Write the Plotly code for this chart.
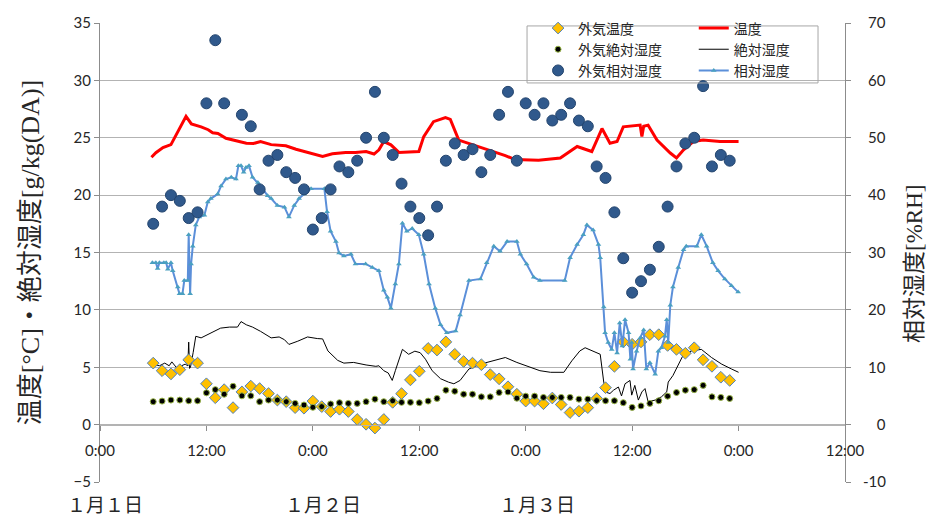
import pandas as pd
import plotly.graph_objects as go

BASE = pd.Timestamp("2015-01-01 00:00")

# ---- outdoor data, hourly from 6:00 on day 1 to 23:00 on day 3 ----
outdoor_hours = list(range(6, 72))
outdoor_temp = [
    5.36, 4.70, 4.42, 4.79, 5.65, 5.36, 3.56, 2.34, 3.05, 1.48,
    2.85, 3.36, 3.14, 2.71, 2.14, 2.00, 1.48, 1.43, 2.05, 1.57,
    1.14, 1.34, 1.14, 0.45, 0.03, -0.30, 0.45, 1.94, 2.70, 3.90,
    4.65, 6.64, 6.50, 7.21, 6.13, 5.50, 5.36, 5.22, 4.36, 3.99,
    3.30, 2.65, 2.05, 2.05, 1.82, 2.32, 1.75, 1.05, 1.17, 1.48,
    2.28, 3.22, 5.08, 7.21, 7.00, 7.21, 7.84, 7.84, 6.90, 6.56,
    6.22, 6.70, 5.65, 5.08, 4.13, 3.85,
]
outdoor_abs_hum = [
    2.00, 2.05, 2.14, 2.14, 2.08, 2.08, 2.77, 3.05, 2.65, 3.34,
    2.51, 2.51, 2.00, 2.14, 2.14, 2.00, 1.85, 1.71, 1.51, 1.57,
    1.80, 1.91, 1.85, 1.85, 2.00, 2.22, 2.00, 2.08, 1.94, 1.94,
    1.91, 2.05, 2.28, 3.00, 2.91, 2.65, 2.65, 2.42, 2.42, 2.80,
    2.85, 2.30, 2.48, 2.48, 2.37, 2.37, 2.37, 2.37, 2.22, 2.22,
    2.10, 2.08, 2.08, 1.91, 1.50, 1.63, 1.85, 2.08, 2.48, 2.80,
    3.00, 3.05, 3.42, 2.42, 2.37, 2.28,
]
outdoor_rh = [
    35, 38, 40, 39, 36, 37, 56, 67, 56, None,
    54, 52, 41, 46, 47, 44, 43, 41, 34, 36,
    41, 45, 44, 46, 50, 58, 50, 47, 42, 38,
    36, 33, 38, 46, 49, 47, 48, 44, 47, 54,
    58, 46, 56, 54, 56, 53, 54, 56, 53, 52,
    45, 43, 37, 29, 23, 25, 27, 31, 38, 45,
    49, 50, 59, 45, 47, 46,
]

# ---- indoor temperature [°C] ----
temp_hours = [
    5.8, 6.3, 7.1, 7.6, 8.0, 9.7, 10.3, 11.4, 12.2, 12.7, 13.3, 14.2, 15.3,
    16.5, 17.3, 18.1, 19.3, 20.95, 22.1, 23.6, 25.1, 26.2, 27.7, 28.8, 30.0,
    30.9, 31.45, 32.0, 32.8, 33.7, 35.95, 36.5, 37.6, 38.95, 39.5, 40.45,
    42.1, 43.6, 45.7, 46.8, 48.1, 49.45, 51.9, 53.4, 53.8, 55.45, 56.6,
    57.5, 58.3, 59.0, 60.1, 60.9, 61.1, 61.3, 61.8, 62.8, 64.3, 65.0, 65.8,
    66.9, 68.0, 69.9, 72.0,
]
temp_values = [
    23.3, 23.7, 24.15, 24.3, 24.4, 26.86, 26.2, 25.95, 25.7, 25.43, 25.38,
    24.95, 24.72, 24.52, 24.5, 24.67, 24.4, 24.3, 24.0, 23.72, 23.38, 23.6,
    23.72, 23.72, 23.8, 23.58, 23.95, 24.67, 24.38, 23.72, 23.8, 25.1, 26.4,
    26.75, 26.6, 24.8, 24.38, 23.95, 23.44, 23.1, 23.04, 23.04, 23.24, 24.0,
    24.24, 23.8, 25.8, 24.52, 24.67, 25.95, 26.04, 26.1, 25.1, 26.0, 26.1,
    24.8, 23.67, 23.24, 23.95, 24.67, 24.8, 24.67, 24.67,
]

# ---- indoor absolute humidity [g/kg(DA)] ----
abs_hours = [
    5.9, 6.7, 7.3, 7.8, 8.1, 8.6, 9.2, 9.6, 9.9, 10.0, 10.1, 10.2, 10.5,
    10.8, 11.4, 12.1, 12.9, 13.6, 14.6, 15.5, 15.9, 16.5, 17.2, 18.1, 19.3,
    20.2, 20.8, 21.3, 22.3, 23.4, 24.5, 25.1, 25.7, 26.8, 27.5, 28.6, 30.0,
    31.1, 31.45, 32.0, 32.5, 32.95, 33.3, 33.7, 34.1, 34.8, 35.5, 36.1,
    36.7, 37.45, 38.4, 39.3, 39.9, 40.6, 41.6, 42.9, 44.4, 45.7, 47.0,
    48.1, 49.6, 50.8, 52.3, 53.2, 54.1, 54.7, 55.45, 56.4, 56.8, 56.95,
    57.5, 57.9, 58.45, 58.8, 59.2, 59.76, 59.95, 60.3, 60.7, 61.1, 61.45,
    61.8, 62.6, 63.3, 63.9, 64.07, 64.6, 65.2, 65.8, 66.7, 67.8, 68.95,
    70.1, 71.2, 72.0,
]
abs_values = [
    5.27, 5.13, 5.36, 5.13, 5.47, 4.99, 5.13, 5.27, 5.13, 7.19, 4.9, 5.0,
    6.27, 7.7, 7.56, 7.84, 8.13, 8.41, 8.5, 8.5, 8.98, 8.7, 8.5, 8.13, 7.56,
    7.64, 7.4, 6.99, 7.27, 7.64, 7.5, 7.47, 6.42, 5.6, 5.36, 5.42, 5.2,
    5.08, 5.13, 4.7, 4.5, 3.85, 4.7, 5.56, 6.56, 6.13, 6.4, 6.27, 5.7, 4.7,
    4.0, 3.7, 3.56, 3.85, 4.85, 5.27, 5.56, 5.85, 5.42, 5.13, 4.7, 4.56,
    4.56, 5.56, 6.42, 6.7, 6.42, 6.13, 3.7, 2.85, 2.71, 3.0, 3.28, 2.5,
    3.56, 3.85, 2.57, 3.42, 2.14, 2.85, 3.14, 1.99, 2.14, 2.42, 2.85, 3.71,
    4.28, 5.27, 6.13, 6.42, 6.56, 5.85, 5.27, 4.85, 4.56,
]

# ---- indoor relative humidity [%RH] ----
rh_hours = [
    5.9, 6.3, 6.5, 6.7, 7.2, 7.46, 7.65, 8.0, 8.2, 8.77, 8.96, 9.3, 9.5,
    9.9, 10.0, 10.16, 10.27, 10.46, 10.8, 11.2, 11.77, 12.15, 12.5, 13.27,
    13.65, 14.2, 14.8, 15.33, 15.6, 15.9, 16.2, 16.46, 16.8, 17.2, 17.8,
    18.1, 18.9, 19.3, 20.0, 20.8, 21.3, 21.9, 22.45, 23.0, 23.8, 25.3, 25.6,
    26.0, 26.6, 26.95, 27.5, 28.3, 28.8, 29.95, 30.7, 31.45, 32.0, 32.4,
    32.8, 33.3, 33.7, 34.1, 34.6, 35.2, 35.95, 36.5, 37.1, 37.8, 38.4,
    39.1, 40.1, 40.6, 41.6, 42.9, 43.6, 44.4, 45.1, 45.9, 47.0, 47.4, 48.1,
    48.9, 49.6, 52.4, 53.0, 53.8, 54.5, 54.9, 55.6, 56.2, 56.4, 56.8, 56.95,
    57.3, 57.7, 58.0, 58.3, 58.6, 58.9, 59.2, 59.6, 59.8, 59.95, 60.1, 60.5,
    60.9, 61.3, 61.6, 62.0, 62.6, 62.95, 63.3, 63.7, 63.9, 64.07, 64.3,
    64.6, 65.2, 65.8, 66.1, 67.3, 67.8, 68.4, 69.1, 69.7, 70.45, 71.2, 71.95,
]
rh_values = [
    28.2, 28.2, 27.2, 28.2, 28.2, 28.2, 27.1, 28.2, 26.8, 24.0, 22.8, 22.8,
    25.1, 25.1, 33.1, 22.8, 28.0, 31.1, 34.8, 36.2, 36.5, 38.8, 39.4, 40.2,
    41.6, 42.8, 43.1, 42.8, 45.1, 45.1, 44.0, 44.8, 45.1, 43.1, 42.2, 41.6,
    39.9, 39.4, 38.2, 37.9, 36.2, 38.2, 39.4, 40.2, 41.1, 41.1, 37.1, 33.7,
    31.9, 29.9, 29.4, 29.7, 28.0, 28.0, 27.4, 26.8, 23.4, 22.2, 20.3, 24.5,
    28.0, 35.1, 33.7, 34.2, 33.1, 29.7, 24.5, 20.3, 17.4, 16.0, 16.3, 19.1,
    25.1, 25.4, 28.2, 31.1, 30.2, 31.9, 31.9, 29.7, 28.0, 25.7, 25.1, 25.1,
    29.1, 31.4, 33.1, 34.8, 33.9, 31.4, 29.1, 20.5, 16.0, 14.3, 13.1, 16.0,
    12.5, 17.7, 13.7, 18.3, 16.0, 11.4, 14.3, 9.7, 12.8, 15.1, 16.5, 9.7,
    10.8, 8.8, 12.8, 13.4, 15.4, 18.3, 14.3, 20.8, 24.0, 27.4, 30.5, 31.1,
    31.1, 33.1, 31.1, 28.2, 26.8, 25.4, 24.2, 23.1,
]

# right-axis tick labels, padded so they line up on the right
rh_tickvals = [-10, 0, 10, 20, 30, 40, 50, 60, 70]
rh_ticktext = ["-10", "\u2004\u20070", "\u200410", "\u200420", "\u200430",
               "\u200440", "\u200450", "\u200460", "\u200470"]

day_labels = ["１月１日", "１月２日", "１月３日"]
day_label_x = [-0.047, 0.246, 0.533]


def to_time(hours):
    return [BASE + pd.Timedelta(hours=h) for h in hours]


AXIS_GRAY = "#8C8C8C"
GRID_GRAY = "#B3B3B3"
TEXT = "#262626"
TICK_FONT = dict(family="Lato, Liberation Sans, sans-serif", size=15, color=TEXT)
JP_SANS = "Noto Sans CJK JP"
SERIF_JP = "Liberation Serif, Noto Sans CJK JP, serif"

fig = go.Figure()

# indoor series (right legend column)
fig.add_trace(go.Scatter(
    x=to_time(temp_hours), y=temp_values, mode="lines", name="温度",
    line=dict(color="#FF0000", width=3), legend="legend2",
))
fig.add_trace(go.Scatter(
    x=to_time(abs_hours), y=abs_values, mode="lines", name="絶対湿度",
    line=dict(color="#000000", width=1), legend="legend2",
))
fig.add_trace(go.Scatter(
    x=to_time(rh_hours), y=rh_values, mode="lines+markers", name="相対湿度",
    yaxis="y2", line=dict(color="#5B8FD9", width=2),
    marker=dict(symbol="triangle-up", size=5, color="#4AA0C0"), legend="legend2",
))

# outdoor series (left legend column)
fig.add_trace(go.Scatter(
    x=to_time(outdoor_hours), y=outdoor_temp, mode="markers", name="外気温度",
    marker=dict(symbol="diamond", size=9, color="#FFC000",
                line=dict(color="#4F81BD", width=1)), legend="legend",
))
fig.add_trace(go.Scatter(
    x=to_time(outdoor_hours), y=outdoor_abs_hum, mode="markers", name="外気絶対湿度",
    marker=dict(symbol="circle", size=6, color="#000000",
                line=dict(color="#9BB84A", width=1)), legend="legend",
))
fig.add_trace(go.Scatter(
    x=to_time(outdoor_hours), y=outdoor_rh, mode="markers", name="外気相対湿度",
    yaxis="y2",
    marker=dict(symbol="circle", size=11, color="#30598C",
                line=dict(color="#24456E", width=1)), legend="legend",
))

for text, xp in zip(day_labels, day_label_x):
    fig.add_annotation(
        text=text, xref="paper", yref="paper", x=xp, y=-0.046,
        xanchor="left", yanchor="middle", showarrow=False,
        font=dict(family=JP_SANS, size=19, color=TEXT),
    )

# right-hand axis title
fig.add_annotation(
    text="相対湿度[%RH]", xref="paper", yref="paper", x=1.094, y=0.475,
    xanchor="center", yanchor="middle", textangle=-90, showarrow=False,
    font=dict(family=SERIF_JP, size=23, color=TEXT),
)

# frame around the two legend columns
fig.add_shape(
    type="rect", xref="paper", yref="paper",
    x0=0.5732, x1=0.9638, y0=0.8694, y1=0.9936,
    line=dict(color="#A6A6A6", width=1), fillcolor="rgba(0,0,0,0)",
)

legend_common = dict(
    orientation="v", yanchor="top", xanchor="left",
    bgcolor="rgba(0,0,0,0)", borderwidth=0,
    font=dict(family=JP_SANS, size=14, color=TEXT),
    traceorder="normal",
)

fig.update_layout(
    width=932, height=517,
    margin=dict(l=100, r=87, t=15, b=35),
    paper_bgcolor="white", plot_bgcolor="white",
    showlegend=True,
    legend=dict(legend_common, x=0.588, y=1.023),
    legend2=dict(legend_common, x=0.797, y=1.023),
    xaxis=dict(
        type="date",
        range=[BASE, BASE + pd.Timedelta(hours=84)],
        tick0=BASE, dtick=12 * 3600 * 1000, tickformat="%-H:%M",
        anchor="free", position=0.125,
        showgrid=False, zeroline=False,
        showline=True, linecolor=GRID_GRAY, linewidth=1,
        ticks="outside", ticklen=5, tickcolor=AXIS_GRAY,
        tickfont=TICK_FONT, ticklabelstandoff=7,
    ),
    yaxis=dict(
        range=[-5, 35], dtick=5, tick0=0,
        showgrid=True, gridcolor=GRID_GRAY, gridwidth=1, zeroline=False,
        showline=True, linecolor=AXIS_GRAY, linewidth=1,
        ticks="outside", ticklen=5, tickcolor=AXIS_GRAY,
        tickfont=TICK_FONT,
        title=dict(text="温度[°C]・絶対湿度[g/kg(DA)]",
                   font=dict(family=SERIF_JP, size=26, color=TEXT), standoff=26),
    ),
    yaxis2=dict(
        range=[-10, 70], tickvals=rh_tickvals, ticktext=rh_ticktext,
        overlaying="y", side="right",
        showgrid=False, zeroline=False,
        showline=True, linecolor=AXIS_GRAY, linewidth=1,
        ticks="outside", ticklen=5, tickcolor=AXIS_GRAY,
        tickfont=TICK_FONT, ticklabelstandoff=9,
    ),
)

fig.write_html("out.html")
